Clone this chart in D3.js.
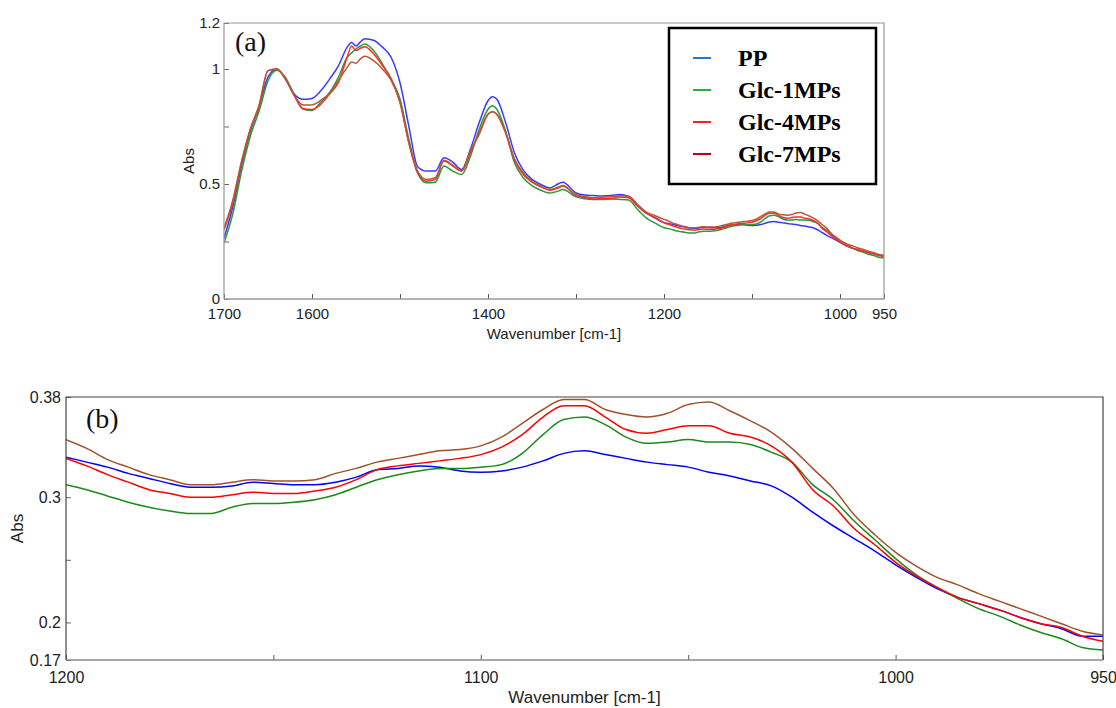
<!DOCTYPE html>
<html>
<head>
<meta charset="utf-8">
<script src="https://cdn.jsdelivr.net/npm/d3@7"></script>
<style>
  body { margin: 0; background: #fff; }
  svg { display: block; }
  .tick text { font-family: "Liberation Sans", Arial, sans-serif; fill: #222; }
</style>
</head>
<body>
<div id="main"></div>
<script>
// wavenumbers (cm-1) shared by all series
const wavenumbers = [
  1700, 1690, 1680, 1670, 1660, 1650, 1640, 1630, 1620, 1610, 1600, 1590, 1580, 1570, 1560, 1555,
  1550, 1545, 1540, 1530, 1520, 1510, 1500, 1490, 1480, 1470, 1460, 1450, 1440, 1430, 1420, 1410,
  1400, 1395, 1390, 1380, 1370, 1360, 1350, 1340, 1330, 1320, 1315, 1300, 1290, 1280, 1270, 1260,
  1250, 1240, 1230, 1220, 1210,
  1200, 1195, 1190, 1185, 1180, 1175, 1170, 1165, 1160, 1155, 1150, 1145, 1140, 1135, 1130, 1125,
  1120, 1115, 1110, 1105, 1100, 1095, 1090, 1085, 1080, 1075, 1070, 1065, 1060, 1055, 1050, 1045,
  1040, 1035, 1030, 1025, 1020, 1015, 1010, 1005, 1000, 995, 990, 985, 980, 975, 970, 965, 960,
  955, 950
];

const pp = [
  0.265, 0.40, 0.58, 0.73, 0.835, 0.965, 1.0, 0.955, 0.89, 0.868, 0.872, 0.905, 0.956, 1.014, 1.095, 1.115,
  1.10, 1.118, 1.132, 1.125, 1.095, 1.05, 0.94, 0.752, 0.575, 0.556, 0.556, 0.614, 0.595, 0.563, 0.651, 0.767,
  0.862, 0.879, 0.869, 0.767, 0.636, 0.56, 0.52, 0.498, 0.483, 0.501, 0.508, 0.461, 0.452, 0.45, 0.448, 0.45,
  0.454, 0.446, 0.41, 0.374, 0.352,
  0.332, 0.328, 0.324, 0.319, 0.315, 0.311, 0.308, 0.308, 0.309, 0.312, 0.311, 0.310, 0.310, 0.312, 0.316, 0.322,
  0.323, 0.325, 0.324, 0.321, 0.320, 0.321, 0.324, 0.329, 0.335, 0.337, 0.334, 0.331, 0.328, 0.326, 0.324, 0.320,
  0.317, 0.313, 0.309, 0.300, 0.288, 0.277, 0.267, 0.257, 0.246, 0.236, 0.227, 0.220, 0.215, 0.210, 0.204, 0.199, 0.195,
  0.189, 0.189
];

const glc1 = [
  0.243, 0.37, 0.556, 0.709, 0.818, 0.949, 0.995, 0.962, 0.885, 0.825, 0.82, 0.856, 0.898, 0.964, 1.051, 1.07,
  1.087, 1.10, 1.109, 1.08, 1.022, 0.956, 0.87, 0.695, 0.549, 0.505, 0.508, 0.578, 0.556, 0.541, 0.62, 0.738,
  0.825, 0.84, 0.825, 0.73, 0.593, 0.527, 0.493, 0.473, 0.461, 0.469, 0.476, 0.444, 0.436, 0.433, 0.433, 0.435,
  0.433, 0.43, 0.389, 0.352, 0.33,
  0.310, 0.306, 0.301, 0.296, 0.292, 0.289, 0.287, 0.287, 0.292, 0.295, 0.295, 0.296, 0.298, 0.302, 0.308, 0.314,
  0.318, 0.321, 0.323, 0.323, 0.324, 0.326, 0.335, 0.350, 0.362, 0.364, 0.358, 0.348, 0.343, 0.344, 0.346, 0.344,
  0.344, 0.342, 0.336, 0.328, 0.310, 0.298, 0.281, 0.266, 0.251, 0.238, 0.228, 0.219, 0.211, 0.205, 0.198, 0.192, 0.187,
  0.180, 0.178
];

const glc4 = [
  0.30, 0.418, 0.593, 0.738, 0.84, 0.993, 1.0, 0.956, 0.883, 0.827, 0.824, 0.847, 0.891, 0.942, 1.051, 1.10,
  1.08, 1.09, 1.097, 1.066, 1.015, 0.956, 0.855, 0.68, 0.549, 0.512, 0.52, 0.60, 0.578, 0.556, 0.636, 0.723,
  0.803, 0.814, 0.803, 0.723, 0.607, 0.541, 0.508, 0.488, 0.473, 0.483, 0.491, 0.45, 0.44, 0.435, 0.436, 0.437,
  0.444, 0.44, 0.403, 0.372, 0.355,
  0.331, 0.325, 0.318, 0.312, 0.306, 0.303, 0.300, 0.300, 0.302, 0.304, 0.303, 0.303, 0.305, 0.308, 0.314, 0.322,
  0.325, 0.327, 0.329, 0.331, 0.334, 0.340, 0.350, 0.364, 0.373, 0.373, 0.364, 0.354, 0.351, 0.354, 0.357, 0.357,
  0.351, 0.348, 0.341, 0.328, 0.306, 0.293, 0.275, 0.262, 0.248, 0.237, 0.228, 0.220, 0.215, 0.210, 0.204, 0.199, 0.196,
  0.189, 0.185
];

const glc7 = [
  0.308, 0.43, 0.60, 0.74, 0.845, 0.993, 1.0, 0.956, 0.885, 0.843, 0.844, 0.864, 0.895, 0.95, 1.007, 1.03,
  1.025, 1.044, 1.055, 1.036, 1.0, 0.95, 0.855, 0.68, 0.556, 0.52, 0.527, 0.603, 0.582, 0.558, 0.644, 0.716,
  0.803, 0.814, 0.803, 0.723, 0.61, 0.548, 0.512, 0.49, 0.476, 0.487, 0.494, 0.453, 0.446, 0.44, 0.442, 0.445,
  0.449, 0.447, 0.41, 0.378, 0.362,
  0.346, 0.339, 0.330, 0.324, 0.318, 0.314, 0.310, 0.310, 0.312, 0.314, 0.313, 0.313, 0.314, 0.319, 0.323, 0.328,
  0.331, 0.334, 0.337, 0.338, 0.341, 0.348, 0.359, 0.370, 0.378, 0.378, 0.370, 0.366, 0.364, 0.367, 0.374, 0.376,
  0.369, 0.361, 0.352, 0.339, 0.323, 0.307, 0.286, 0.270, 0.256, 0.245, 0.236, 0.230, 0.223, 0.217, 0.211, 0.205, 0.199,
  0.193, 0.190
];

const seriesNames = ["PP", "Glc-1MPs", "Glc-4MPs", "Glc-7MPs"];
const seriesValues = [pp, glc1, glc4, glc7];

// tick marks and which of them carry labels
const xTicksA = [1700, 1600, 1500, 1400, 1300, 1200, 1100, 1000, 950];
const xLabelsA = [1700, 1600, 1400, 1200, 1000, 950];
const yTicksA = [0, 0.25, 0.5, 0.75, 1, 1.2];
const yLabelsA = [0, 0.5, 1, 1.2];
const xTicksB = [1200, 1150, 1100, 1050, 1000, 950];
const xLabelsB = [1200, 1100, 1000, 950];
const yTicksB = [0.17, 0.2, 0.25, 0.3, 0.38];
const yLabelsB = [0.17, 0.2, 0.3, 0.38];

const colorsA = ["#3a3aff", "#2a9a3a", "#ff2a2a", "#b45a36"];
const colorsB = ["#0000ff", "#1a8a1a", "#ff0000", "#a0522d"];
const legendColors = ["#1f7ad6", "#22b04a", "#ff2020", "#c00010"];

const sans = '"Liberation Sans", Arial, sans-serif';
const serif = '"Liberation Serif", "Times New Roman", serif';

const svg = d3.select("#main").append("svg")
  .attr("width", 1116)
  .attr("height", 708);

function drawPanel(cfg) {
  const x = d3.scaleLinear().domain(cfg.xDomain).range([cfg.left, cfg.right]);
  const y = d3.scaleLinear().domain(cfg.yDomain).range([cfg.bottom, cfg.top]);
  const g = svg.append("g");

  g.append("clipPath").attr("id", cfg.id + "-clip")
    .append("rect")
    .attr("x", cfg.left).attr("y", cfg.top)
    .attr("width", cfg.right - cfg.left).attr("height", cfg.bottom - cfg.top);

  const fmt = labels => d => labels.includes(d) ? String(d) : "";

  const xAxis = g.append("g")
    .attr("transform", `translate(0,${cfg.bottom})`)
    .call(d3.axisBottom(x).tickValues(cfg.xTicks).tickFormat(fmt(cfg.xLabels))
      .tickSizeInner(-5).tickSizeOuter(0).tickPadding(cfg.xPad));
  xAxis.select(".domain").remove();
  xAxis.selectAll(".tick line").attr("stroke", "#555");
  xAxis.selectAll(".tick text").style("font-size", cfg.tickFont + "px");

  const yAxis = g.append("g")
    .attr("transform", `translate(${cfg.left},0)`)
    .call(d3.axisLeft(y).tickValues(cfg.yTicks).tickFormat(fmt(cfg.yLabels))
      .tickSizeInner(-5).tickSizeOuter(0).tickPadding(cfg.yPad));
  yAxis.select(".domain").remove();
  yAxis.selectAll(".tick line").attr("stroke", "#666");
  yAxis.selectAll(".tick text").style("font-size", cfg.tickFont + "px");

  const line = d3.line()
    .x(d => x(d[0]))
    .y(d => y(d[1]))
    .curve(d3.curveMonotoneX);

  seriesValues.forEach((vals, i) => {
    const pts = wavenumbers.map((w, j) => [w, vals[j]])
      .filter(d => d[0] <= cfg.xDomain[0] && d[0] >= cfg.xDomain[1]);
    g.append("path")
      .datum(pts)
      .attr("clip-path", `url(#${cfg.id}-clip)`)
      .attr("fill", "none")
      .attr("stroke", cfg.colors[i])
      .attr("stroke-width", cfg.lineWidth)
      .attr("d", line);
  });

  // frame
  g.append("path")
    .attr("d", `M${cfg.left},${cfg.bottom}V${cfg.top}H${cfg.right}V${cfg.bottom}`)
    .attr("fill", "none").attr("stroke", cfg.frame).attr("stroke-width", 1.2);
  g.append("line")
    .attr("x1", cfg.left).attr("x2", cfg.right)
    .attr("y1", cfg.bottom).attr("y2", cfg.bottom)
    .attr("stroke", cfg.frameBottom).attr("stroke-width", 1.5);

  g.append("text")
    .attr("x", (cfg.left + cfg.right) / 2).attr("y", cfg.xTitleY)
    .attr("text-anchor", "middle")
    .style("font-family", sans).style("font-size", cfg.titleFont + "px").style("fill", "#222")
    .text("Wavenumber [cm-1]");

  g.append("text")
    .attr("transform", `translate(${cfg.yTitleX},${(cfg.top + cfg.bottom) / 2}) rotate(-90)`)
    .attr("text-anchor", "middle").attr("dy", "0.35em")
    .style("font-family", sans).style("font-size", cfg.titleFont + "px").style("fill", "#222")
    .text("Abs");

  g.append("text")
    .attr("x", cfg.tagX).attr("y", cfg.tagY)
    .style("font-family", serif).style("font-size", cfg.tagFont + "px").style("fill", "#111")
    .text(cfg.tag);
}

drawPanel({
  id: "a", tag: "(a)", tagX: 235, tagY: 51, tagFont: 28,
  left: 224, right: 884, top: 23, bottom: 299,
  xDomain: [1700, 950], yDomain: [0, 1.2],
  xTicks: xTicksA, xLabels: xLabelsA, yTicks: yTicksA, yLabels: yLabelsA,
  xPad: 9, yPad: 4, tickFont: 15, titleFont: 15,
  xTitleY: 339, yTitleX: 189,
  colors: colorsA, lineWidth: 1.5, frame: "#999", frameBottom: "#999"
});

drawPanel({
  id: "b", tag: "(b)", tagX: 86, tagY: 428, tagFont: 28,
  left: 66, right: 1103, top: 397, bottom: 660,
  xDomain: [1200, 950], yDomain: [0.17, 0.38],
  xTicks: xTicksB, xLabels: xLabelsB, yTicks: yTicksB, yLabels: yLabelsB,
  xPad: 12, yPad: 5, tickFont: 16, titleFont: 17,
  xTitleY: 703, yTitleX: 17,
  colors: colorsB, lineWidth: 1.5, frame: "#444", frameBottom: "#8a8a8a"
});

// legend of panel (a)
const legend = svg.append("g");
legend.append("rect")
  .attr("x", 669).attr("y", 28).attr("width", 207).attr("height", 156)
  .attr("fill", "#fff").attr("stroke", "#000").attr("stroke-width", 2.5);

const legendY = d3.scalePoint().domain(seriesNames).range([58, 154]);
seriesNames.forEach((name, i) => {
  legend.append("line")
    .attr("x1", 693).attr("x2", 711)
    .attr("y1", legendY(name)).attr("y2", legendY(name))
    .attr("stroke", legendColors[i]).attr("stroke-width", 2);
  legend.append("text")
    .attr("x", 738).attr("y", legendY(name)).attr("dy", "0.34em")
    .style("font-family", serif).style("font-weight", "bold").style("font-size", "24px").style("fill", "#000")
    .text(name);
});
</script>
</body>
</html>
